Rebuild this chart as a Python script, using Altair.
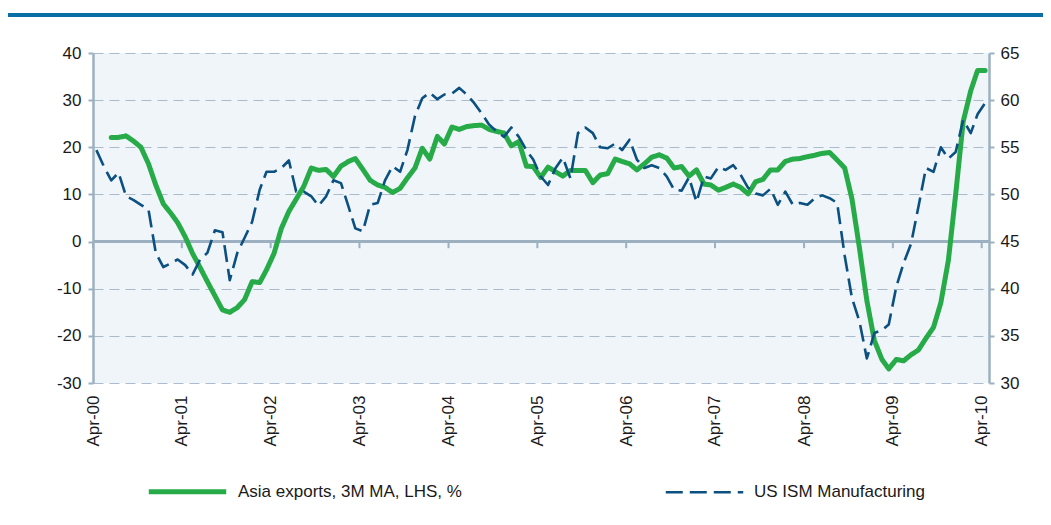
import altair as alt
import pandas as pd

# ---------------- data ----------------
ASIA = "Asia exports, 3M MA, LHS, %"
ISM = "US ISM Manufacturing"

# monthly observations Apr-2000 .. Apr-2010 (plotted mid-month)
dates = [f"{2000 + (3 + i) // 12}-{(3 + i) % 12 + 1:02d}-15" for i in range(121)]

asia = [
    None, None, 22.1, 22.1, 22.4, 21.3, 20.0, 16.5, 12.0, 8.0, 6.0, 4.0,
    1.0, -2.5, -5.5, -8.5, -11.5, -14.5, -15.0, -14.0, -12.3, -8.5, -8.7, -6.0,
    -2.5, 2.8, 6.4, 9.0, 11.7, 15.6, 15.1, 15.3, 13.8, 16.0, 17.0, 17.6,
    15.3, 13.0, 12.0, 11.5, 10.4, 11.3, 13.5, 15.6, 19.8, 17.5, 22.3, 20.7,
    24.3, 23.8, 24.4, 24.6, 24.7, 23.8, 23.4, 23.0, 20.3, 21.2, 16.0, 15.9,
    13.6, 15.8, 14.8, 13.9, 15.1, 15.1, 15.1, 12.5, 14.1, 14.4, 17.5, 17.0,
    16.5, 15.2, 16.5, 17.9, 18.4, 17.7, 15.6, 15.9, 13.9, 15.2, 12.2, 12.0,
    10.9, 11.5, 12.2, 11.5, 10.1, 12.7, 13.2, 15.2, 15.2, 17.0, 17.5, 17.6,
    18.0, 18.3, 18.7, 18.9, 17.3, 15.6, 9.0, -1.5, -12.5, -21.0, -25.0, -27.0,
    -25.0, -25.3, -24.0, -23.0, -20.5, -18.2, -13.0, -4.0, 10.0, 25.5, 32.0, 36.3,
    36.3,
]

ism = [
    54.7, 53.0, 51.5, 52.3, 49.8, 49.4, 48.9, 48.4, 43.8, 42.3, 42.7, 43.1,
    42.5, 41.5, 43.1, 43.8, 46.2, 46.0, 40.9, 43.8, 45.4, 47.1, 50.5, 52.4,
    52.4, 52.8, 53.6, 50.3, 50.3, 49.8, 48.8, 49.8, 51.5, 51.2, 48.7, 46.4,
    46.1, 48.9, 49.1, 51.5, 53.0, 52.4, 54.7, 58.3, 60.2, 60.8, 60.1, 60.6,
    60.7, 61.3, 60.6, 59.7, 58.6, 57.4, 56.7, 56.1, 57.1, 56.1, 54.7, 53.7,
    51.9, 51.0, 52.8, 53.9, 51.7, 56.5, 57.1, 56.5, 55.0, 54.9, 55.4, 54.7,
    55.8, 53.7, 52.8, 53.1, 52.8, 51.9, 50.5, 50.4, 51.8, 49.2, 51.9, 51.7,
    52.9, 52.6, 53.1, 52.1, 50.7, 50.1, 49.9, 50.6, 48.9, 50.3, 48.9, 49.1,
    48.9, 49.6, 49.9, 49.6, 49.1, 43.5, 39.0, 36.5, 32.6, 35.3, 35.6, 36.2,
    40.2, 42.7, 44.8, 48.7, 52.8, 52.4, 55.0, 53.8, 54.5, 57.9, 56.5, 58.5,
    59.7,
]

tick_years = list(range(2000, 2011))
left_ticks = [-30, -20, -10, 0, 10, 20, 30, 40]
right_ticks = [30, 35, 40, 45, 50, 55, 60, 65]

# ---------------- style ----------------
GREEN = "#27AB48"
NAVY = "#0B5080"
BLUE = "#0B6FA7"
AXIS = "#9CB0C1"
GRID = "#AABCCB"
FONT = "Liberation Sans, Arial, sans-serif"
TXT = "#1a1a1a"

df_asia = pd.DataFrame({"date": dates, "value": asia, "series": ASIA}).dropna()
df_ism = pd.DataFrame({"date": dates, "value": ism, "series": ISM})
df_ticks = pd.DataFrame({"date": [f"{y}-04-01" for y in tick_years]})
df_zero = pd.DataFrame({"v": [0]})

x_scale = alt.Scale(
    type="utc",
    domain=[alt.DateTime(year=2000, month=4, date=1, utc=True),
            alt.DateTime(year=2010, month=5, date=1, utc=True)],
)
x_axis = alt.Axis(
    values=[alt.DateTime(year=y, month=4, date=1, utc=True) for y in tick_years],
    format="%b-%y", labelAngle=270, labelAlign="right", labelBaseline="middle",
    labelFont=FONT, labelFontSize=17, labelColor=TXT, labelPadding=12,
    domain=False, ticks=False, grid=False, title=None,
)
X = alt.X("date:T", scale=x_scale, axis=x_axis, title=None)

left_scale = alt.Scale(domain=[-30, 40], nice=False, zero=False)
right_scale = alt.Scale(domain=[30, 65], nice=False, zero=False)

left_axis = alt.Axis(
    values=left_ticks, orient="left", title=None, labelExpr="'' + datum.value",
    grid=True, gridDash=[10, 6], gridColor=GRID, gridWidth=1.2,
    domainColor=AXIS, domainWidth=2.5, tickColor=AXIS, tickSize=5, tickWidth=2,
    labelFont=FONT, labelFontSize=17, labelColor=TXT, labelPadding=7,
)
right_axis = alt.Axis(
    values=right_ticks, orient="right", title=None, grid=False,
    labelExpr="'' + datum.value",
    domainColor=AXIS, domainWidth=2.5, tickColor=AXIS, tickSize=5, tickWidth=2,
    labelFont=FONT, labelFontSize=17, labelColor=TXT, labelPadding=6,
)

color = alt.Color("series:N", title=None,
                  scale=alt.Scale(domain=[ASIA, ISM], range=[GREEN, NAVY]))
dash = alt.StrokeDash("series:N", title=None,
                      scale=alt.Scale(domain=[ASIA, ISM], range=[[1, 0], [17, 7]]))
width = alt.StrokeWidth("series:N", title=None,
                        scale=alt.Scale(domain=[ASIA, ISM], range=[5, 2.6]))

zero_line = alt.Chart(df_zero).mark_rule(color=AXIS, strokeWidth=3).encode(
    y=alt.Y("v:Q", scale=left_scale, axis=None)
)

green = alt.Chart(df_asia).mark_line(strokeJoin="round", strokeCap="round").encode(
    x=X,
    y=alt.Y("value:Q", scale=left_scale, axis=left_axis),
    color=color, strokeDash=dash, strokeWidth=width,
)

navy = alt.Chart(df_ism).mark_line(strokeJoin="round").encode(
    x=X,
    y=alt.Y("value:Q", scale=right_scale, axis=right_axis),
    color=color, strokeDash=dash, strokeWidth=width,
)

xticks = alt.Chart(df_ticks).mark_rule(color=AXIS, strokeWidth=2).encode(
    x=X,
    y=alt.YDatum(0, scale=left_scale, axis=None),
    y2=alt.Y2Datum(-1.4),
)

top_bar = alt.Chart(df_zero).mark_rule(color=BLUE, strokeWidth=4).encode(
    x=alt.value(-85), x2=alt.value(960), y=alt.value(-38)
)

chart = (
    alt.layer(zero_line, green, navy, xticks, top_bar)
    .resolve_scale(y="independent")
    .properties(
        width=896, height=330,
        padding={"left": 85, "top": 45, "right": 54, "bottom": 130},
        autosize=alt.AutoSizeParams(type="none"),
        background="white",
    )
    .configure_view(fill="#EFF5F9", strokeWidth=0)
    .configure_legend(
        orient="none", legendX=53, legendY=397, direction="horizontal",
        symbolType="stroke", symbolSize=6000, labelFont=FONT, labelFontSize=17,
        labelColor=TXT, labelOffset=9, labelLimit=500, columnPadding=198,
        padding=0, symbolStrokeColor=GREEN,
    )
)

chart.save("out.html", embed_options={"renderer": "svg", "actions": False})
